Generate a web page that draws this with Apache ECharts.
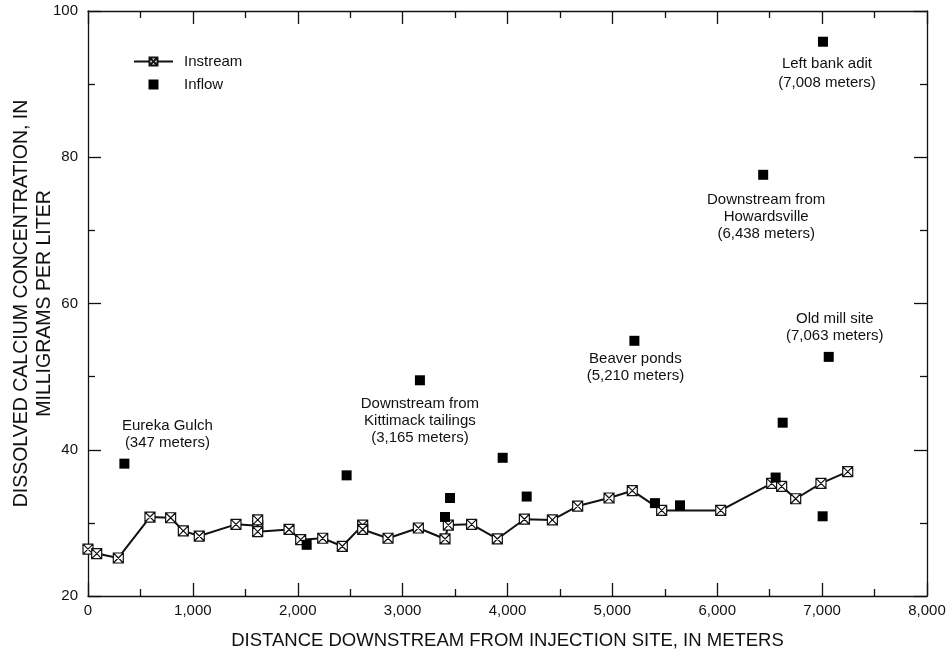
<!DOCTYPE html>
<html>
<head>
<meta charset="utf-8">
<script src="https://cdn.jsdelivr.net/npm/echarts@6/dist/echarts.min.js"></script>
<style>
html,body{margin:0;padding:0;background:#fff;}
#c{width:951px;height:654px;}
</style>
</head>
<body>
<div id="c"></div>
<script>
// ---- data ----
const instreamDist = [0, 83, 289, 591, 788, 909, 1061, 1411, 1618, 1618, 1618, 1917, 2028, 2238, 2425, 2619, 2619, 2861, 3150, 3404, 3436, 3658, 3903, 4161, 4428, 4669, 4968, 5190, 5470, 6033, 6519, 6614, 6748, 6989, 7244];
const instreamCa   = [26.4, 25.8, 25.2, 30.8, 30.7, 28.9, 28.2, 29.8, 29.6, 30.4, 28.8, 29.1, 27.7, 27.9, 26.8, 29.7, 29.1, 27.9, 29.3, 27.8, 29.7, 29.8, 27.8, 30.5, 30.4, 32.3, 33.4, 34.4, 31.7, 31.7, 35.4, 35.0, 33.3, 35.4, 37.0];

const inflowDist = [347, 2085, 2466, 3165, 3404, 3452, 3954, 4183, 5210, 5406, 5645, 6438, 6557, 6624, 7005, 7008, 7063];
const inflowCa   = [38.1, 27.0, 36.5, 49.5, 30.8, 33.4, 38.9, 33.6, 54.9, 32.7, 32.4, 77.6, 36.2, 43.7, 30.9, 95.8, 52.7];

const siteLabels = {
  347: 'Eureka Gulch\n(347 meters)',
  3165: 'Downstream from\nKittimack tailings\n(3,165 meters)',
  5210: 'Beaver ponds\n(5,210 meters)',
  6438: 'Downstream from\nHowardsville\n(6,438 meters)',
  7008: 'Left bank adit\n(7,008 meters)',
  7063: 'Old mill site\n(7,063 meters)'
};

const xTickMin = 0, xTickMax = 8000, xTickStep = 1000;
const yTickMin = 20, yTickMax = 100, yTickStep = 20;

const xTitle = 'DISTANCE DOWNSTREAM FROM INJECTION SITE, IN METERS';
const yTitle = 'DISSOLVED CALCIUM CONCENTRATION, IN\nMILLIGRAMS PER LITER';

// ---- styling (not data) ----
const labelLayout = {
  347: {position: 'top', distance: 7, offset: [43, 0]},
  3165: {position: 'bottom', distance: 10, offset: [0, 0]},
  5210: {position: 'bottom', distance: 5, offset: [1, 0]},
  6438: {position: 'bottom', distance: 12, offset: [3, 0]},
  7008: {position: 'bottom', distance: 8, offset: [4, 0], lineHeight: 19},
  7063: {position: 'top', distance: 8, offset: [6, 0]}
};

const FONT = '"Liberation Sans", Arial, sans-serif';
const INK = '#111';
const boxX = 'path://M0,0L10,0L10,10L0,10ZM0,0L10,10M10,0L0,10';
const squareIcon = 'path://M0,0L10,0L10,10L0,10Z';

const fmt = v => String(v).replace(/\B(?=(\d{3})+(?!\d))/g, ',');

const axisLineStyle = {color: INK, width: 1.3};
function xAx(pos, showLabel) {
  return {
    type: 'value', position: pos, min: xTickMin, max: xTickMax, interval: xTickStep,
    axisLine: {show: true, onZero: false, lineStyle: axisLineStyle},
    axisTick: {show: true, inside: true, length: 13, lineStyle: axisLineStyle},
    minorTick: {show: true, splitNumber: 2, length: 7, lineStyle: axisLineStyle},
    splitLine: {show: false}, minorSplitLine: {show: false},
    axisLabel: {show: showLabel, formatter: fmt, color: INK, fontFamily: FONT, fontSize: 15, margin: 7},
    name: showLabel ? xTitle : '', nameLocation: 'middle', nameGap: 35,
    nameTextStyle: {color: INK, fontFamily: FONT, fontSize: 18.5}
  };
}
function yAx(pos, showLabel) {
  return {
    type: 'value', position: pos, min: yTickMin, max: yTickMax, interval: yTickStep,
    axisLine: {show: true, onZero: false, lineStyle: axisLineStyle},
    axisTick: {show: true, inside: true, length: 13, lineStyle: axisLineStyle},
    minorTick: {show: true, splitNumber: 2, length: 7, lineStyle: axisLineStyle},
    splitLine: {show: false}, minorSplitLine: {show: false},
    axisLabel: {show: showLabel, color: INK, fontFamily: FONT, fontSize: 15, margin: 10},
    name: showLabel ? yTitle : '', nameLocation: 'middle', nameGap: 32, nameRotate: 90,
    nameMoveOverlap: false,
    nameTextStyle: {color: INK, fontFamily: FONT, fontSize: 19.5, lineHeight: 23, align: 'center'}
  };
}

const instreamData = instreamDist.map((d, i) => [d, instreamCa[i]]);
const inflowData = inflowDist.map((d, i) => {
  const item = {value: [d, inflowCa[i]]};
  if (siteLabels[d]) {
    item.label = Object.assign({show: true, formatter: siteLabels[d]}, labelLayout[d]);
  }
  return item;
});

const chart = echarts.init(document.getElementById('c'), null, {renderer: 'canvas'});
chart.setOption({
  backgroundColor: '#fff',
  animation: false,
  grid: {left: 88, right: 24, top: 11, bottom: 58, containLabel: false, outerBoundsMode: 'none'},
  xAxis: [xAx('bottom', true), xAx('top', false)],
  yAxis: [yAx('left', true), yAx('right', false)],
  legend: {
    orient: 'vertical', left: 133, top: 54, padding: 0, itemWidth: 39, itemHeight: 10, itemGap: 8,
    textStyle: {color: INK, fontFamily: FONT, fontSize: 15, padding: [0, 0, 0, 6]},
    data: [
      {name: 'Instream'},
      {name: 'Inflow', icon: squareIcon, itemStyle: {color: '#000', opacity: 1}}
    ]
  },
  series: [
    {
      name: 'Instream', type: 'line', xAxisIndex: 0, yAxisIndex: 0,
      data: instreamData,
      symbol: boxX, symbolSize: 10, showAllSymbol: true,
      lineStyle: {color: INK, width: 2},
      itemStyle: {color: '#fff', borderColor: INK, borderWidth: 1.2, opacity: 1},
      z: 3
    },
    {
      name: 'Inflow', type: 'scatter', xAxisIndex: 0, yAxisIndex: 0,
      data: inflowData,
      symbol: 'rect', symbolSize: 10,
      itemStyle: {color: '#000', opacity: 1},
      label: {show: false, color: INK, fontFamily: FONT, fontSize: 15, lineHeight: 17, align: 'center'},
      z: 4
    }
  ]
});
</script>
</body>
</html>
